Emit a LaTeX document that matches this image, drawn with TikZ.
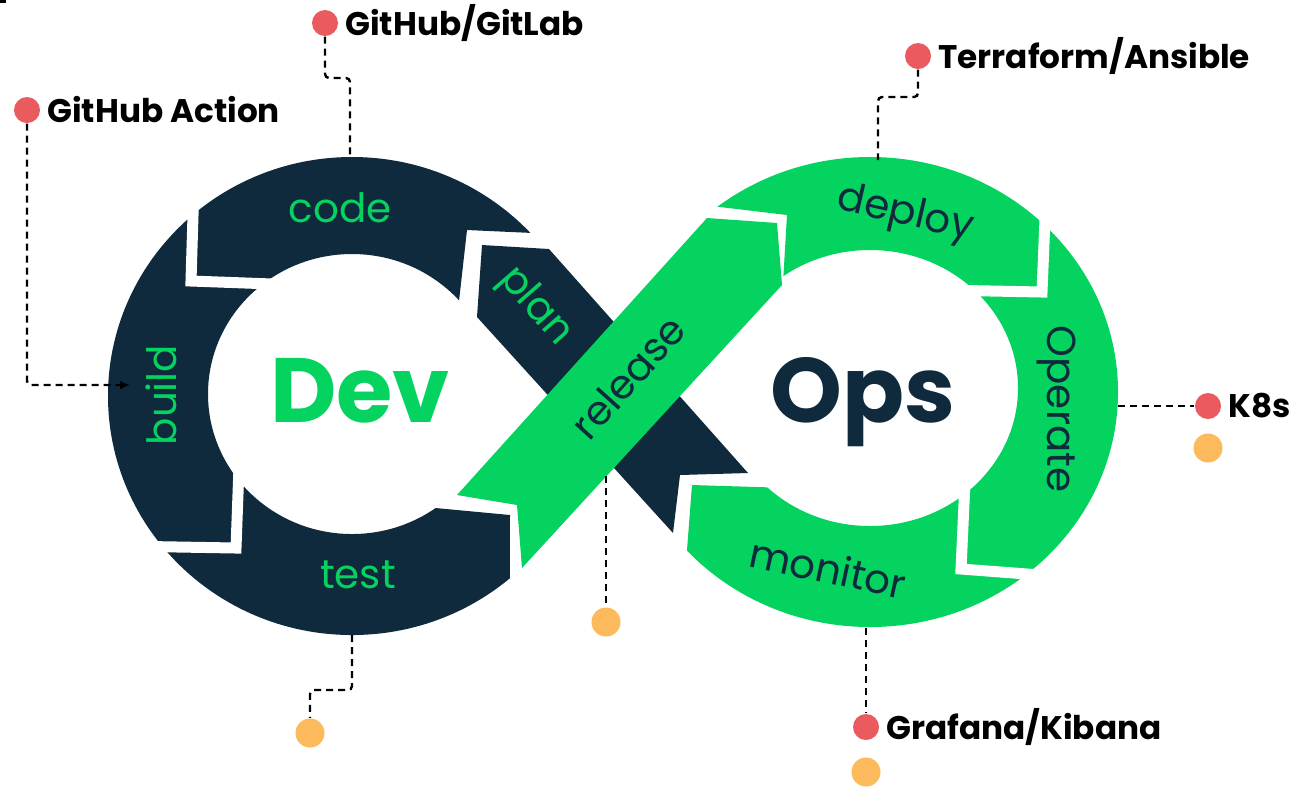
\documentclass[tikz,border=0pt]{standalone}
\usepackage{fontspec}
\setmainfont{Poppins}
\usetikzlibrary{positioning,arrows.meta}
\definecolor{navy}{HTML}{0F2A3D}
\definecolor{leaf}{HTML}{04D35F}
\definecolor{pin}{HTML}{E95B5F}
\definecolor{amber}{HTML}{FDBA5C}
\tikzset{
  gap/.style={white,line width=1.1mm},
  stage/.style={font=\fontsize{11.5}{12}\selectfont,inner sep=0pt},
  half/.style={font=\fontsize{26}{28}\selectfont\bfseries,inner sep=0pt,anchor=base},
  tool/.style={font=\fontsize{9.3}{10}\selectfont\bfseries,inner sep=0pt},
  hub/.style={circle,fill=pin,minimum size=2.6mm,inner sep=0pt},
  spare/.style={circle,fill=amber,minimum size=2.9mm,inner sep=0pt},
  link/.style={line width=0.24mm,dash pattern=on 0.7mm off 0.5mm,rounded corners=0.4mm}
}
\begin{document}
\begin{tikzpicture}[x=0.1mm,y=-0.1mm]
\useasboundingbox (0,0) rectangle (1298,786);
\fill (0,0) rectangle (6,3);
\begin{scope}
  \clip (0,0) -- (800,0) -- (800,236) -- (533,233) -- (467,230) -- (458,310) -- (425,507) -- (510,515) -- (509,786) -- (0,786) -- cycle;
  \fill[navy,even odd rule] (352,396) ellipse[x radius=244,y radius=239] (352,394) ellipse[x radius=144,y radius=140];
\end{scope}
\begin{scope}
  \clip (1298,0) -- (600,0) -- (600,200) -- (720,207) -- (787,215) -- (782,300) -- (790,488) -- (692,485) -- (687,550) -- (685,786) -- (1298,786) -- cycle;
  \fill[leaf,even odd rule] (870,392) ellipse[x radius=248,y radius=235] (870,388) ellipse[x radius=148,y radius=138];
\end{scope}
\foreach \xa/\ya/\xb/\yb/\xc/\yc in {195/150/191/281/300/285, 240/440/236/548/120/546, 1047/170/1042/292/940/290, 966/460/961/569/1080/578}
  \draw[gap] (\xa,\ya) -- (\xb,\yb) -- (\xc,\yc);
\fill[navy] (482,245) -- (549,249) -- (748,473) -- (680,475) -- (673,533) -- (477,317) -- cycle;
\fill[leaf] (457,495) -- (707,218) -- (777,223) -- (782,285) -- (522,568) -- (517,505) -- cycle;

\node[stage,text=leaf] (code) at (340,208) {code};
\node[stage,text=leaf,rotate=90] (build) at (161,395) {build};
\node[stage,text=leaf] (test) at (358,575) {test};
\node[stage,text=leaf,rotate=-49] (plan) at (535,307) {plan};
\node[stage,text=navy,rotate=48] (release) at (628,377) {release};
\node[stage,text=navy,rotate=-13] (deploy) at (905,215) {deploy};
\node[stage,text=navy,rotate=-90] (operate) at (1056,409) {Operate};
\node[stage,text=navy,rotate=-12] (monitor) at (828,568) {monitor};
\node[half,text=leaf] (dev) at (360,422) {Dev};
\node[half,text=navy] (ops) at (863,422) {Ops};

\node[hub] (gitlab) at (325,23) {};
\node[tool,right=0.6mm of gitlab] (gitlabtext) {GitHub/GitLab};
\node[hub] (action) at (27,110) {};
\node[tool,right=0.6mm of action] (actiontext) {GitHub Action};
\node[hub] (terra) at (918,56) {};
\node[tool,right=0.6mm of terra] (terratext) {Terraform/Ansible};
\node[hub] (k8s) at (1208,406) {};
\node[tool,right=0.6mm of k8s] (k8stext) {K8s};
\node[hub] (grafana) at (866,727) {};
\node[tool,right=0.6mm of grafana] (grafanatext) {Grafana/Kibana};
\foreach \n/\x/\y in {dtest/310/733, drelease/606/622, dmonitor/866/772, doperate/1208/448}
  \node[spare] (\n) at (\x,\y) {};

\coordinate (codetop) at (350,157);
\coordinate (buildin) at (130,385);
\coordinate (testfoot) at (352,635);
\coordinate (releasefoot) at (606,476);
\coordinate (deploytop) at (878,160);
\coordinate (operateside) at (1118,406);
\coordinate (monitorfoot) at (866,628);

\draw[link] (gitlab) -- ++(0,55) -| (codetop);
\draw[link,-{Latex[length=1mm,width=0.9mm]}] (action) |- (buildin);
\draw[link] (terra) -- ++(0,41) -| (deploytop);
\draw[link] (testfoot) -- ++(0,55) -| (dtest);
\draw[link] (releasefoot) -- (drelease);
\draw[link] (monitorfoot) -- (grafana);
\draw[link] (operateside) -- (k8s);
\end{tikzpicture}
\end{document}
